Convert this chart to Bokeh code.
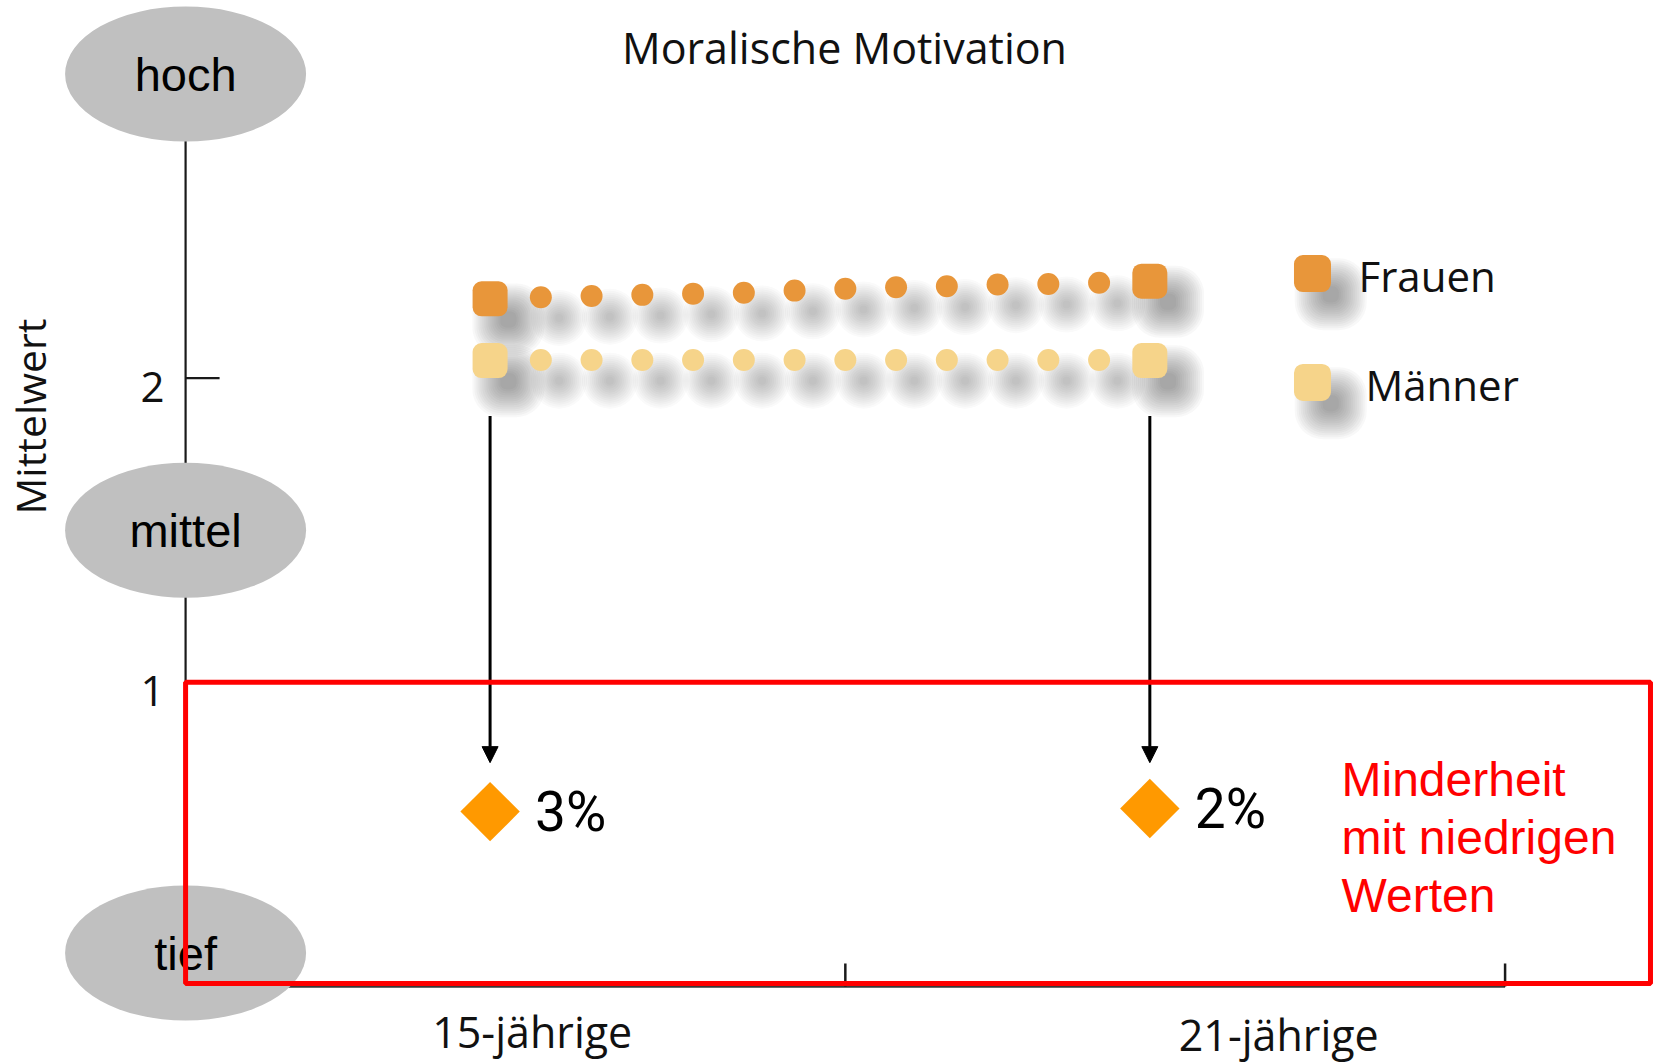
import math
from bokeh.plotting import figure
from bokeh.models import (ColumnDataSource, Range1d, Arrow, NormalHead, BoxAnnotation,
                          Label, CDSView, IndexFilter)
from bokeh.transform import dodge
from bokeh.core.properties import value
from bokeh.embed import file_html
from bokeh.resources import INLINE

# ---------------- data ----------------
chart_title = "Moralische Motivation"
y_axis_title = "Mittelwert"

messzeitpunkte = [0, 1, 2, 3, 4, 5, 6, 7, 8, 9, 10, 11, 12, 13]
frauen = [2.261, 2.266, 2.270, 2.274, 2.278, 2.281, 2.288,
          2.294, 2.299, 2.302, 2.308, 2.310, 2.314, 2.319]
maenner = [2.058, 2.060, 2.060, 2.060, 2.060, 2.060, 2.060,
           2.060, 2.060, 2.060, 2.060, 2.060, 2.060, 2.058]
series_labels = ["Frauen", "Männer"]
series_colors = ["#E8963A", "#F6D48A"]

altersgruppen = ["15-jährige", "21-jährige"]
altersgruppen_x = [0, 13]
altersgruppen_label_x = [0.83, 15.54]
x_ticks = [7, 20]
y_ticks = [1, 2]
y_tick_labels = ["1", "2"]

stufen = ["hoch", "mittel", "tief"]
stufen_y = [3.0, 1.5, 0.11]

minderheit_anteil = ["3%", "2%"]
minderheit_y = [0.575, 0.585]
minderheit_text = ["Minderheit", "mit niedrigen", "Werten"]

# ---------------- layout constants ----------------
AXIS_X = -6
ARROW_TOP, ARROW_BOTTOM = 1.876, 0.736
LEGEND_X = 16.205
LEGEND_Y = [2.344, 1.986]
NOTE_X, NOTE_Y = 16.777, 0.682
BOX_RIGHT = 22.865

MYRIAD_NAME = "Open Sans"
MYRIAD = value(MYRIAD_NAME)
ARIAL = value("Liberation Sans")
NARROW = value("Roboto")

W, H = 1658, 1063
p = figure(width=W, height=H,
           x_range=Range1d(-9.647, 23.023), y_range=Range1d(-0.2532, 3.2418),
           output_backend="svg", toolbar_location=None,
           x_axis_location=None, y_axis_location=None,
           min_border=0, outline_line_color=None,
           background_fill_color="white", border_fill_color="white")
p.grid.grid_line_color = None

# ---- axes drawn through the data scales ----
p.segment(x0=AXIS_X, y0=0, x1=AXIS_X, y1=stufen_y[0], line_color="#1a1a1a", line_width=2.2)
p.segment(x0=AXIS_X, y0=0, x1=x_ticks[-1], y1=0, line_color="#3a3a3a", line_width=2.5)
p.ray(x=x_ticks, y=0, length=23, length_units="screen", angle=math.pi / 2,
      line_color="#1a1a1a", line_width=2.5)
p.ray(x=AXIS_X, y=y_ticks, length=34, length_units="screen", angle=0,
      line_color="#1a1a1a", line_width=2.2)
p.text(x=AXIS_X, y=y_ticks, text=y_tick_labels, x_offset=-33, y_offset=9,
       text_align="center", text_baseline="middle", text_font=MYRIAD,
       text_font_size="42px", text_color="#111111")
p.text(x=altersgruppen_label_x, y=0, text=altersgruppen, y_offset=[45, 48],
       text_align="center", text_baseline="middle", text_font=MYRIAD,
       text_font_size="43px", text_color="#111111")

# ---- level ellipses ----
p.ellipse(x=AXIS_X, y=stufen_y, width=241, height=135, width_units="screen",
          height_units="screen", fill_color="#C0C0C0", line_color=None)
p.text(x=AXIS_X, y=stufen_y, text=stufen, text_align="center", text_baseline="middle",
       text_font=ARIAL, text_font_size="47px", text_color="#000000")

# ---- series with soft shadows ----
DX, DY = 0.36, -0.068
DOT_SHADOW = list(range(8, 57, 4))
SQ_SHADOW = list(range(16, 73, 4))
for vals, color in zip([frauen, maenner], series_colors):
    src = ColumnDataSource(dict(x=messzeitpunkte, y=vals))
    ends = CDSView(filter=IndexFilter([0, len(vals) - 1]))
    mids = CDSView(filter=IndexFilter(list(range(1, len(vals) - 1))))
    for s in DOT_SHADOW:
        p.scatter(x=dodge("x", DX), y=dodge("y", DY), size=s, source=src, view=mids,
                  fill_color="#303030", fill_alpha=0.022, line_color=None)
    for s in SQ_SHADOW:
        p.rect(x=dodge("x", DX), y=dodge("y", DY), width=s, height=s, width_units="screen",
               height_units="screen", border_radius=int(s / 2.5), source=src, view=ends,
               fill_color="#303030", fill_alpha=0.034, line_color=None)
    p.scatter(x="x", y="y", size=22, source=src, view=mids,
              fill_color=color, line_color=None)
    p.rect(x="x", y="y", width=35, height=35, width_units="screen", height_units="screen",
           border_radius=9, source=src, view=ends, fill_color=color, line_color=None)

# ---- legend ----
leg = ColumnDataSource(dict(x=[LEGEND_X, LEGEND_X], y=LEGEND_Y, c=series_colors,
                            t=series_labels, dx=[46, 53]))
for s in SQ_SHADOW:
    p.rect(x=dodge("x", DX), y=dodge("y", DY), width=s, height=s, width_units="screen",
           height_units="screen", border_radius=int(s / 2.5), source=leg,
           fill_color="#303030", fill_alpha=0.034, line_color=None)
p.rect(x="x", y="y", width=37, height=37, width_units="screen", height_units="screen",
       border_radius=9, source=leg, fill_color="c", line_color=None)
p.text(x="x", y="y", text="t", source=leg, x_offset="dx", y_offset=2,
       text_align="left", text_baseline="middle", text_font=MYRIAD,
       text_font_size="42px", text_color="#111111")

# ---- minority markers ----
p.scatter(x=altersgruppen_x, y=minderheit_y, marker="square", angle=math.pi / 4, size=42,
          fill_color="#FF9900", line_color=None)
p.text(x=altersgruppen_x, y=minderheit_y, text=minderheit_anteil, x_offset=45, y_offset=0,
       text_align="left", text_baseline="middle", text_font=NARROW,
       text_font_size="55px", text_color="#000000")
p.text(x=NOTE_X, y=NOTE_Y, text=minderheit_text, y_offset=[0, 58, 116],
       text_align="left", text_baseline="middle", text_font=ARIAL,
       text_font_size="48px", text_color="#FF0000")

for xa in altersgruppen_x:
    p.add_layout(Arrow(end=NormalHead(size=16, fill_color="black", line_color="black", line_width=1),
                       x_start=xa, y_start=ARROW_TOP, x_end=xa, y_end=ARROW_BOTTOM,
                       line_color="black", line_width=3))

p.add_layout(BoxAnnotation(left=AXIS_X, right=BOX_RIGHT, bottom=0.01, top=y_ticks[0],
                           fill_alpha=0, fill_color=None, line_color="#FF0000",
                           line_width=5, line_alpha=1))

p.add_layout(Label(x=6.983, y=3.087, text=chart_title, text_align="center",
                   text_baseline="middle", text_font=MYRIAD_NAME, text_font_size="43px",
                   text_color="#111111"))
p.add_layout(Label(x=-9.056, y=1.874, text=y_axis_title, angle=90, angle_units="deg",
                   text_align="center", text_baseline="middle", text_font=MYRIAD_NAME,
                   text_font_size="41px", text_color="#111111"))

with open("out.html", "w") as f:
    f.write(file_html(p, INLINE, title=chart_title))
